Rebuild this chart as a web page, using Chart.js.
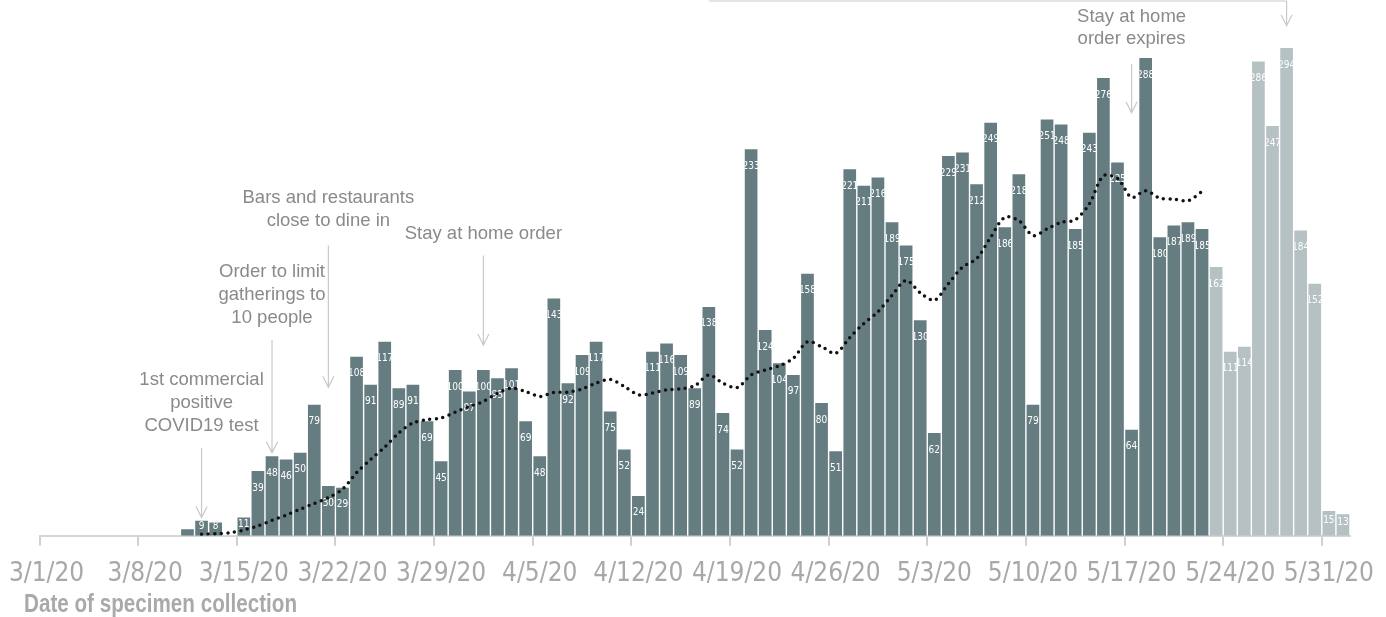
<!DOCTYPE html>
<html><head><meta charset="utf-8">
<script src="https://cdn.jsdelivr.net/npm/chart.js@4"></script>
<style>html,body{margin:0;padding:0;background:#fff}</style>
</head><body>
<canvas id="c" width="1386" height="617"></canvas>
<script>
const labels = ['3/1/20','3/2/20','3/3/20','3/4/20','3/5/20','3/6/20','3/7/20','3/8/20','3/9/20','3/10/20',
'3/11/20','3/12/20','3/13/20','3/14/20','3/15/20','3/16/20','3/17/20','3/18/20','3/19/20','3/20/20',
'3/21/20','3/22/20','3/23/20','3/24/20','3/25/20','3/26/20','3/27/20','3/28/20','3/29/20','3/30/20','3/31/20',
'4/1/20','4/2/20','4/3/20','4/4/20','4/5/20','4/6/20','4/7/20','4/8/20','4/9/20','4/10/20',
'4/11/20','4/12/20','4/13/20','4/14/20','4/15/20','4/16/20','4/17/20','4/18/20','4/19/20','4/20/20',
'4/21/20','4/22/20','4/23/20','4/24/20','4/25/20','4/26/20','4/27/20','4/28/20','4/29/20','4/30/20',
'5/1/20','5/2/20','5/3/20','5/4/20','5/5/20','5/6/20','5/7/20','5/8/20','5/9/20','5/10/20',
'5/11/20','5/12/20','5/13/20','5/14/20','5/15/20','5/16/20','5/17/20','5/18/20','5/19/20','5/20/20',
'5/21/20','5/22/20','5/23/20','5/24/20','5/25/20','5/26/20','5/27/20','5/28/20','5/29/20','5/30/20','5/31/20','6/1/20'];

const cases = [0,0,0,0,0,0,0,0,0,0,
4,9,8,0,11,39,48,46,50,79,
30,29,108,91,117,89,91,69,45,100,87,
100,95,101,69,48,143,92,109,117,75,
52,24,111,116,109,89,138,74,52,233,
124,104,97,158,80,51,221,211,216,189,
175,130,62,229,231,212,249,186,218,79,
251,248,185,243,276,225,64,288,180,187,
189,185,162,111,114,286,247,294,184,152,15,13];

const avg = [null,null,null,null,null,null,null,null,null,null,
null,1,1.3,1.8,3.5,6,9.3,12.5,16,19.5,
23,28,38,46,53.5,62,68,70,71,74.5,78,
81,86,89,87,84,86.4,86.6,88.5,92,94.3,
90,85,86,88,88.6,90.5,96.9,92,89.3,97,
100,102.5,107,117,114,110,119.5,128,135,145,
154,146.5,142,152,162,167,180,192,190,181,
185,189,190.5,200,217,215.5,204,208,203.5,203,
202,207.5,null,null,null,null,null,null,null,null,null,null];

const tickLabels = ['3/1/20','3/8/20','3/15/20','3/22/20','3/29/20','4/5/20','4/12/20','4/19/20','4/26/20','5/3/20','5/10/20','5/17/20','5/24/20','5/31/20'];
const lightFrom = '5/23/20';
const axisTitle = 'Date of specimen collection';

const notes = [
  {date:'3/12/20', lines:['1st commercial','positive','COVID19 test'], textTop:93.7, arrowFrom:53, arrowTo:11},
  {date:'3/17/20', lines:['Order to limit','gatherings to','10 people'], textTop:159, arrowFrom:118, arrowTo:50},
  {date:'3/21/20', lines:['Bars and restaurants','close to dine in'], textTop:203.6, arrowFrom:175, arrowTo:89.5},
  {date:'4/1/20', lines:['Stay at home order'], textTop:182, arrowFrom:169, arrowTo:115},
  {date:'5/17/20', lines:['Stay at home','order expires'], textTop:313, arrowFrom:284.6, arrowTo:255}
];
const bracket = {from:'4/17/20', to:'5/28/20', level:322.4, arrowTo:307.5};

const DARK = '#657d80';
const LIGHT = '#b6c1c3';
const lightIdx = labels.indexOf(lightFrom);

function arrow(ctx, x, y1, y2) {
  ctx.beginPath();
  ctx.moveTo(x, y1); ctx.lineTo(x, y2);
  ctx.moveTo(x - 5.5, y2 - 11); ctx.lineTo(x, y2); ctx.lineTo(x + 5.5, y2 - 11);
  ctx.stroke();
}

const barLabels = {
  id: 'barLabels',
  afterDatasetDraw(chart, args) {
    if (args.index !== 1) return;
    const ctx = chart.ctx;
    ctx.save();
    ctx.font = '10px "DejaVu Sans Condensed", "Liberation Sans", sans-serif';
    ctx.fillStyle = '#ffffff';
    ctx.textAlign = 'center';
    ctx.textBaseline = 'middle';
    args.meta.data.forEach((bar, i) => {
      const v = cases[i];
      if (v < 8) return;
      const p = bar.getProps(['x', 'y', 'base', 'width'], true);
      const h = p.base - p.y;
      const ty = Math.min(p.y + 17, p.base - Math.max(9, h * 0.6));
      ctx.save();
      ctx.beginPath();
      ctx.rect(p.x - p.width / 2, p.y, p.width + 0.5, h);
      ctx.clip();
      ctx.fillText(String(v), p.x, ty);
      ctx.restore();
    });
    ctx.restore();
  }
};

const annotations = {
  id: 'annotations',
  afterDraw(chart) {
    const ctx = chart.ctx, xs = chart.scales.x, ys = chart.scales.y;
    ctx.save();
    ctx.strokeStyle = '#c9c9c9';
    ctx.lineWidth = 1.2;
    ctx.fillStyle = '#8a8a8a';
    ctx.textAlign = 'center';
    ctx.textBaseline = 'middle';
    ctx.font = '18.5px "Liberation Sans", Arial, sans-serif';
    notes.forEach(n => {
      const x = xs.getPixelForValue(labels.indexOf(n.date));
      const y0 = ys.getPixelForValue(n.textTop);
      n.lines.forEach((t, k) => ctx.fillText(t, x, y0 + k * 22.8));
      arrow(ctx, x, ys.getPixelForValue(n.arrowFrom), ys.getPixelForValue(n.arrowTo));
    });
    const bx1 = xs.getPixelForValue(labels.indexOf(bracket.from));
    const bx2 = xs.getPixelForValue(labels.indexOf(bracket.to));
    const by = ys.getPixelForValue(bracket.level);
    ctx.beginPath(); ctx.moveTo(bx1, by); ctx.lineTo(bx2, by); ctx.stroke();
    arrow(ctx, bx2, by, ys.getPixelForValue(bracket.arrowTo));
    // axis title, condensed horizontally to match the reference width
    ctx.textAlign = 'left';
    ctx.textBaseline = 'alphabetic';
    ctx.fillStyle = '#a9a9a9';
    ctx.font = 'bold 25px "Liberation Sans", sans-serif';
    const w = ctx.measureText(axisTitle).width;
    const sx = 273 / w;
    ctx.translate(24, 611.5);
    ctx.scale(sx, 1);
    ctx.fillText(axisTitle, 0, 0);
    ctx.restore();
  }
};

new Chart(document.getElementById('c'), {
  type: 'bar',
  data: {
    labels: labels,
    datasets: [
      {type:'line', data: avg, borderColor:'#111111', borderWidth:3.5, borderDash:[0, 6.6], borderCapStyle:'round',
       pointRadius:0, tension:0.3, fill:false, order:0, spanGaps:false},
      {type:'bar', data: cases, backgroundColor: cases.map((v, i) => i >= lightIdx ? LIGHT : DARK),
       barPercentage:0.9, categoryPercentage:1.0, order:1}
    ]
  },
  options: {
    responsive: false,
    animation: false,
    devicePixelRatio: 1,
    layout: {padding: {left: 39.5, right: 36, top: 0, bottom: 14}},
    plugins: {legend: {display: false}, tooltip: {enabled: false}},
    scales: {
      x: {
        offset: true,
        afterFit: s => { s.paddingLeft = 0; s.paddingRight = 0; },
        grid: {offset: true, drawOnChartArea: false, drawTicks: true, tickLength: 10, lineWidth: 2,
               color: c => (c.tick && tickLabels.includes(labels[c.index])) ? '#d0d0d0' : 'rgba(0,0,0,0)'},
        border: {display: true, color: '#d6d6d6', width: 2},
        ticks: {autoSkip: false, maxRotation: 0, minRotation: 0, padding: 13, color: '#a8a8a8',
                font: {family: '"DejaVu Sans Condensed", "Liberation Sans", sans-serif', size: 26},
                callback: (v, i) => tickLabels.includes(labels[i]) ? labels[i] : ''}
      },
      y: {display: false, min: 0, max: 323}
    }
  },
  plugins: [barLabels, annotations]
});
</script>
</body></html>
